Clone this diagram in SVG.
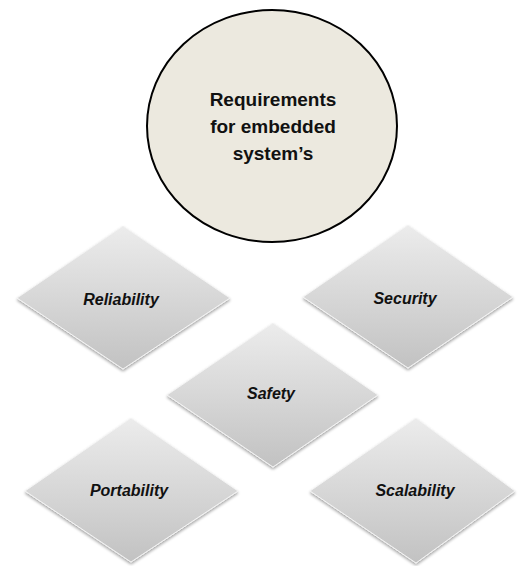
<svg xmlns="http://www.w3.org/2000/svg" width="518" height="566" viewBox="0 0 518 566">
  <defs>
    <linearGradient id="dg" x1="0" y1="0" x2="0" y2="1">
      <stop offset="0" stop-color="#ececec"/>
      <stop offset="1" stop-color="#c2c2c2"/>
    </linearGradient>
    <filter id="sh" x="-10%" y="-10%" width="120%" height="125%">
      <feGaussianBlur in="SourceAlpha" stdDeviation="1.5"/>
      <feOffset dx="0" dy="1.5" result="b"/>
      <feComponentTransfer><feFuncA type="linear" slope="0.35"/></feComponentTransfer>
      <feMerge><feMergeNode/><feMergeNode in="SourceGraphic"/></feMerge>
    </filter>
    <style>
      .dia { fill: url(#dg); stroke: #f4f4f4; stroke-width: 1; filter: url(#sh); }
      .dt { font-family: "Liberation Sans", Arial, sans-serif; font-size: 16px; font-weight: bold; font-style: italic; fill: #111; text-anchor: middle; }
      .ct { font-family: "Liberation Sans", Arial, sans-serif; font-size: 19px; font-weight: bold; fill: #111; text-anchor: middle; }
    </style>
  </defs>
  <rect width="518" height="566" fill="#ffffff"/>
  <g id="connectors"/>
  <g id="requirements">
    <ellipse cx="272" cy="126" rx="125" ry="116" fill="#ecE9df" stroke="#000" stroke-width="2"/>
    <text class="ct" x="273" y="106">Requirements</text>
    <text class="ct" x="273" y="133">for embedded</text>
    <text class="ct" x="273" y="160">system’s</text>
  </g>
  <g id="reliability">
    <polygon class="dia" points="123,226 230,298 123,369 17,298"/>
    <text class="dt" x="121" y="305">Reliability</text>
  </g>
  <g id="security">
    <polygon class="dia" points="408,225 513,297 408,368 303,297"/>
    <text class="dt" x="405" y="304">Security</text>
  </g>
  <g id="safety">
    <polygon class="dia" points="273,323 378,395 273,467 167,395"/>
    <text class="dt" x="271" y="399">Safety</text>
  </g>
  <g id="portability">
    <polygon class="dia" points="131,418 238,491 131,562 25,491"/>
    <text class="dt" x="129" y="496">Portability</text>
  </g>
  <g id="scalability">
    <polygon class="dia" points="416,418 515,491 416,563 310,491"/>
    <text class="dt" x="415" y="496">Scalability</text>
  </g>
</svg>
